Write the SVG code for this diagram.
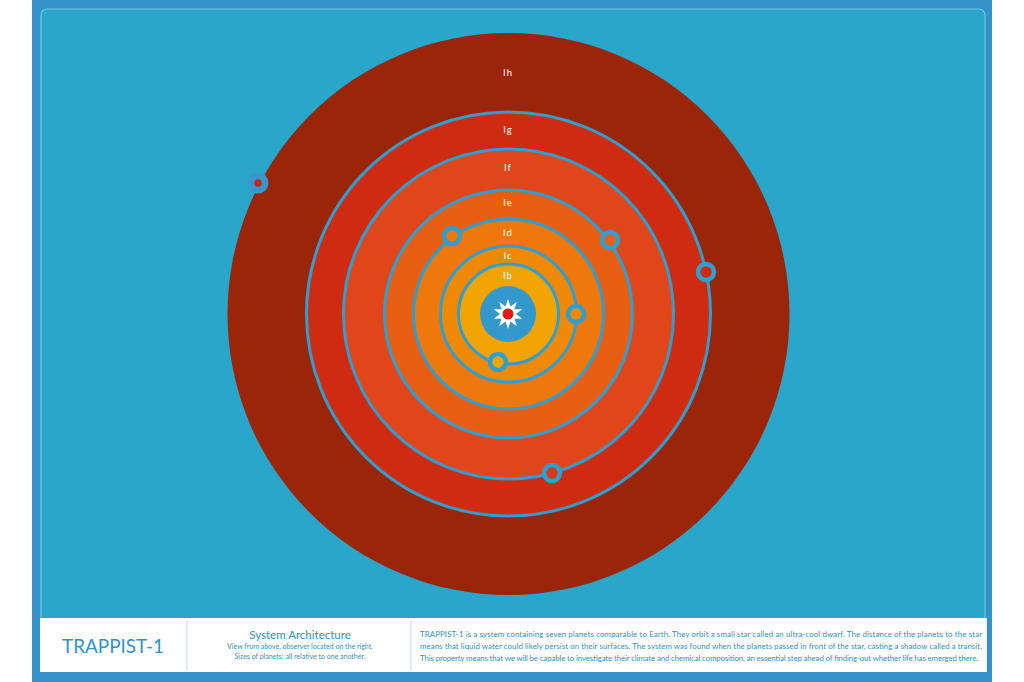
<svg xmlns="http://www.w3.org/2000/svg" width="1024" height="682" viewBox="0 0 1024 682">
  <style>
    .orbit { stroke: #2f9fd0; stroke-width: 3; }
    .lbl { font-family: Lato, "Liberation Sans", sans-serif; font-size: 9.5px; fill: #ffffff; text-anchor: middle; letter-spacing: 1px; }
    .ring { fill: none; stroke: #2f9fd0; stroke-width: 4.5; }
    .txt { font-family: Lato, "Liberation Sans", sans-serif; fill: #2e93c6; }
  </style>
  <rect x="0" y="0" width="1024" height="682" fill="#ffffff"/>
  <rect x="32" y="0" width="960" height="682" fill="#3592c8"/>
  <rect x="41" y="9" width="944" height="640" rx="6" fill="#29a6c9" stroke="#6cc8e8" stroke-width="1.2"/>

  <g id="system">
    <circle id="orbit-h" cx="508.5" cy="314" r="281" fill="#9a2508"/>
    <circle id="orbit-g" class="orbit" cx="508.5" cy="314" r="202" fill="#cf2b10"/>
    <circle id="orbit-f" class="orbit" cx="508.5" cy="314" r="165" fill="#e0461a"/>
    <circle id="orbit-e" class="orbit" cx="508.5" cy="314" r="124" fill="#e85f14"/>
    <circle id="orbit-d" class="orbit" cx="508.5" cy="314" r="95" fill="#ee780c"/>
    <circle id="orbit-c" class="orbit" cx="508.5" cy="314" r="68" fill="#f08a06"/>
    <circle id="orbit-b" class="orbit" cx="508.5" cy="314" r="50" fill="#f2a402"/>
  </g>

  <g id="star">
    <circle cx="508" cy="314" r="28" fill="#3399cc"/>
    <polygon fill="#ffffff" points="508,299 510.47,306.39 516.82,301.87 514.47,309.3 522.27,309.36 516,314 522.27,318.64 514.47,318.7 516.82,326.13 510.47,321.61 508,329 505.53,321.61 499.18,326.13 501.53,318.7 493.73,318.64 500,314 493.73,309.36 501.53,309.3 499.18,301.87 505.53,306.39"/>
    <circle cx="508" cy="314" r="5.5" fill="#e01b1b"/>
  </g>

  <g id="labels">
    <text class="lbl" x="508" y="76">Ih</text>
    <text class="lbl" x="508" y="133">Ig</text>
    <text class="lbl" x="508" y="171">If</text>
    <text class="lbl" x="508" y="206">Ie</text>
    <text class="lbl" x="508" y="236">Id</text>
    <text class="lbl" x="508" y="259">Ic</text>
    <text class="lbl" x="508" y="279">Ib</text>
  </g>

  <g id="planet-h"><circle cx="258" cy="183" r="10.5" fill="#3b97cb"/><circle cx="258" cy="183" r="3.8" fill="#c4241a"/></g>
  <g id="planet-g"><circle class="ring" cx="706" cy="272" r="8" style="fill:#cf2b10"/></g>
  <g id="planet-f"><circle class="ring" cx="552" cy="473" r="8" style="fill:#d8381a"/></g>
  <g id="planet-e"><circle class="ring" cx="610" cy="240" r="8" style="fill:#e85f14"/></g>
  <g id="planet-d"><circle class="ring" cx="452" cy="236" r="8" style="fill:#ee780c"/></g>
  <g id="planet-c"><circle class="ring" cx="576" cy="314" r="8" style="fill:#f08a06"/></g>
  <g id="planet-b"><circle class="ring" cx="498" cy="362" r="8" style="fill:#f2a402"/></g>

  <g id="info-panel">
    <rect x="40" y="618" width="947" height="54" fill="#ffffff"/>
    <line x1="187" y1="620" x2="187" y2="671" stroke="#c9dbe6" stroke-width="1"/>
    <line x1="411" y1="620" x2="411" y2="671" stroke="#c9dbe6" stroke-width="1"/>
    <text class="txt" x="113" y="653" font-size="20" text-anchor="middle" textLength="102" lengthAdjust="spacingAndGlyphs">TRAPPIST-1</text>
    <text class="txt" x="300" y="639" font-size="11.5" text-anchor="middle">System Architecture</text>
    <text class="txt" x="300" y="649" font-size="7" text-anchor="middle">View from above, observer located on the right.</text>
    <text class="txt" x="300" y="659" font-size="7" text-anchor="middle">Sizes of planets: all relative to one another.</text>
    <text class="txt" x="420" y="637" font-size="7.8" textLength="562" lengthAdjust="spacing">TRAPPIST-1 is a system containing seven planets comparable to Earth. They orbit a small star called an ultra-cool dwarf.  The distance of the planets to the star</text>
    <text class="txt" x="420" y="649" font-size="7.8" textLength="562" lengthAdjust="spacing">means that liquid water could likely persist on their surfaces. The system was found when the planets passed in front of the star, casting a shadow called a transit.</text>
    <text class="txt" x="420" y="661" font-size="7.8" textLength="558" lengthAdjust="spacing">This property means that we will be capable to investigate their climate and chemical composition, an essential step ahead of finding-out whether life has emerged there.</text>
  </g>
</svg>
